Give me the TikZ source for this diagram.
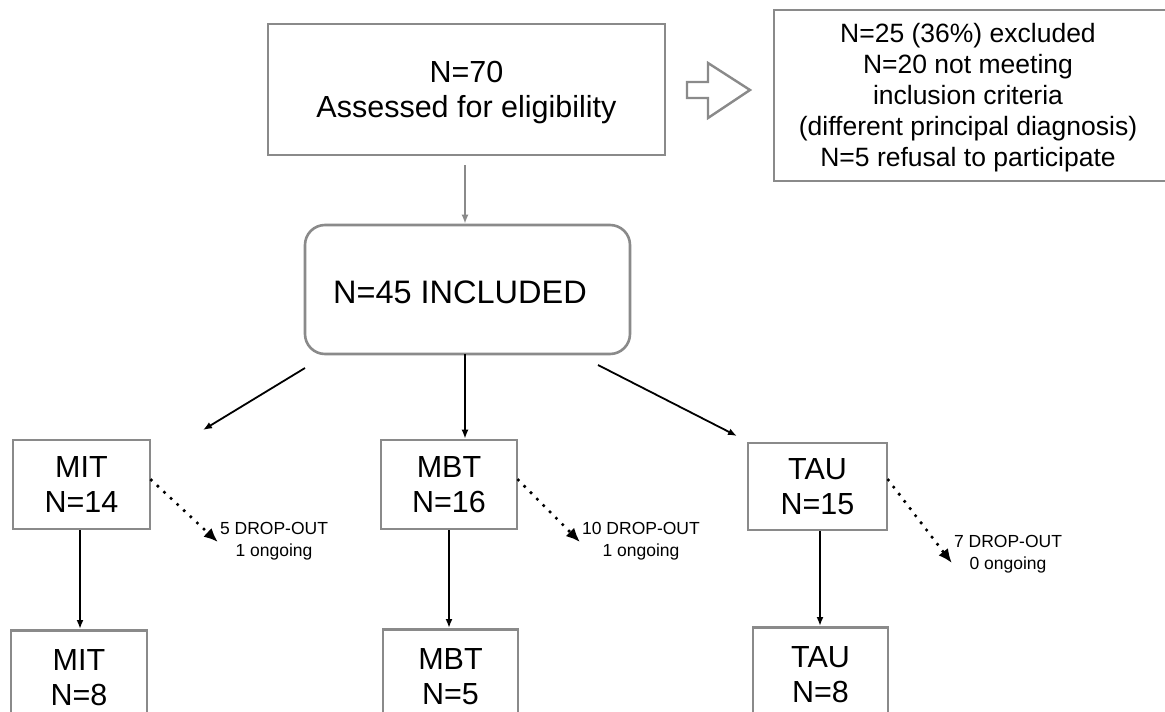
\documentclass[tikz,border=0pt]{standalone}
\usepackage{fontspec}
\setmainfont{Liberation Sans}
\usetikzlibrary{arrows.meta}
\definecolor{boxgray}{HTML}{8A8A8A}
\begin{document}
\begin{tikzpicture}[x=1pt,y=-1pt,
  frame/.style={draw=boxgray,line width=2.6pt,fill=white,inner sep=0pt,align=center},
  big/.style={font=\fontsize{30.5}{35}\selectfont},
  mid/.style={font=\fontsize{26.5}{31}\selectfont},
  label/.style={align=center,inner sep=0pt},
  small/.style={font=\fontsize{17.5}{22}\selectfont,align=center,inner sep=0pt},
  flow/.style={-{Latex[length=9pt,width=7pt]},line width=1.8pt,black},
  drop/.style={-{Latex[length=14pt,width=12pt]},line width=3.6pt,line cap=round,
    dash pattern=on 0pt off 9pt,black}]
\useasboundingbox (0,0) rectangle (1165,712);
\fill[white] (0,0) rectangle (1165,712);

% screening and exclusions
\node[frame,minimum width=397pt,minimum height=131pt] (assess) at (466.5,89.5) {};
\node[label,big] (assesstext) at (466.5,93) {N=70\\Assessed for eligibility};
\node[frame,minimum width=392pt,minimum height=171pt] (excl) at (970,95.5) {};
\node[label,mid] (excltext) at (968,98)
  {N=25 (36\%) excluded\\N=20 not meeting\\inclusion criteria\\(different principal diagnosis)\\N=5 refusal to participate};
\draw[boxgray,line width=2.4pt,fill=white,line join=miter]
  (687,82) -- (708,82) -- (708,63) -- (750,90) -- (708,118) -- (708,98) -- (687,98) -- cycle;

% inclusion
\node[frame,rounded corners=20pt,minimum width=325pt,minimum height=129pt] (incl) at (467.5,289.5) {};
\node[label,font=\fontsize{32.5}{36}\selectfont] (incltext) at (460,292) {N=45 INCLUDED};
\coordinate (assessout) at (465,165);
\draw[-{Latex[length=9pt,width=7pt]},line width=2pt,boxgray] (assessout) -- (incl.north -| assessout);

% randomised arms
\node[frame,big,minimum width=137pt,minimum height=89pt] (mit) at (81.5,484.5) {MIT\\N=14};
\node[frame,big,minimum width=136pt,minimum height=89pt] (mbt) at (449,484.5) {MBT\\N=16};
\node[frame,big,minimum width=139pt,minimum height=87pt] (tau) at (817.5,486.5) {TAU\\N=15};

\coordinate (s1) at (305,368);
\coordinate (e1) at (203,430);
\coordinate (s2) at (465,354);
\coordinate (s3) at (598,365);
\coordinate (e3) at (737,436);
\draw[flow] (s1) -- (e1);
\draw[flow] (s2) -- (s2 |- mbt.north);
\draw[flow] (s3) -- (e3);

% drop-outs
\node[small] (dmit) at (274,541) {5 DROP-OUT\\1 ongoing};
\node[small] (dmbt) at (641,541) {10 DROP-OUT\\1 ongoing};
\node[small] (dtau) at (1008,554) {7 DROP-OUT\\0 ongoing};
\draw[drop] (mit.east |- 0,480) -- ([xshift=-2pt,yshift=-1pt]dmit.west);
\draw[drop] (mbt.east |- 0,480) -- ([xshift=-2pt,yshift=-1pt]dmbt.west);
\draw[drop] (tau.east |- 0,480) -- ([xshift=-2pt,yshift=-9pt]dtau.west);

% completers
\node[frame,big,minimum width=136pt,minimum height=94pt,anchor=north] (mit2) at (79,629) {MIT\\N=8};
\node[frame,big,minimum width=135pt,minimum height=94pt,anchor=north] (mbt2) at (450.5,628) {MBT\\N=5};
\node[frame,big,minimum width=135pt,minimum height=94pt,anchor=north] (tau2) at (820.5,626) {TAU\\N=8};
\draw[flow] (mit.south -| 80,0) -- (mit2.north -| 80,0);
\draw[flow] (mbt.south) -- (mbt.south |- mbt2.north);
\draw[flow] (tau.south -| 820,0) -- (tau2.north -| 820,0);
\end{tikzpicture}
\end{document}
